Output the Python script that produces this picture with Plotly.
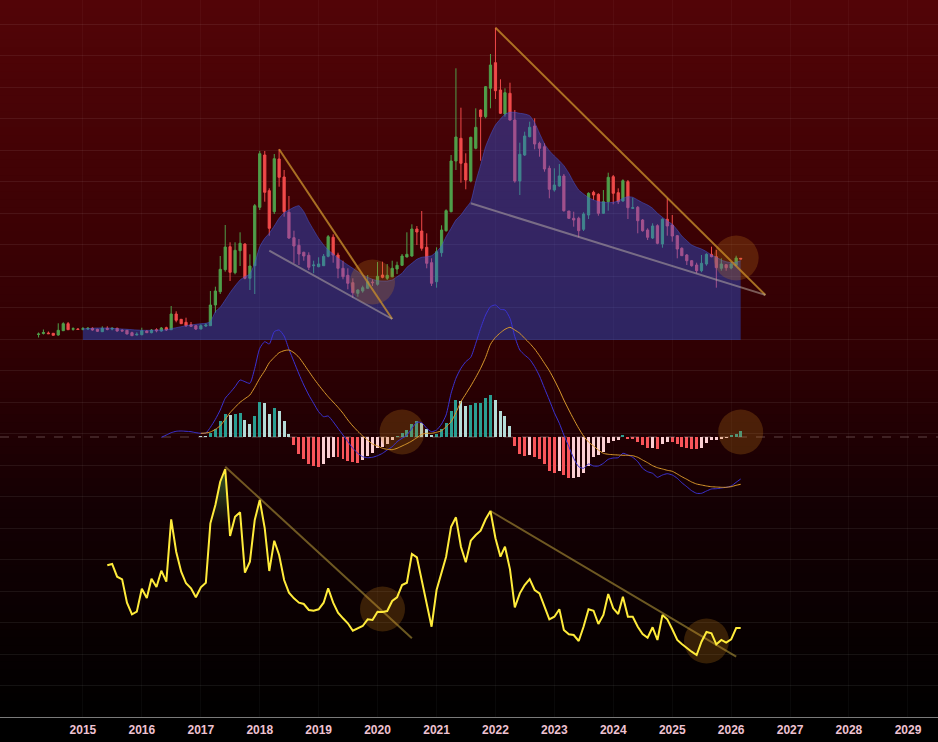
import numpy as np
import pandas as pd
import plotly.graph_objects as go

months = pd.date_range("2014-04-01", periods=144, freq="MS")

# monthly candles, price index
high = [7.5,10.5,8.5,7,16.7,17.7,18,12.7,12,13,
        13,12.7,11.3,13.7,13.7,12.7,12.3,11,10,8.3,
        7.7,12.3,10,11,11.7,13,13.3,34,28.7,21,
        22.3,18,15,15.7,16.7,49,53.3,84,115,97.7,
        97.7,107.7,96.7,85.7,136,189,189,151.7,186,190.7,
        170,144,109.3,101,88.3,87.7,79.3,82.7,86,105,
        105.7,87.3,79.3,71.7,61.7,50.7,54.3,65,60.7,78,
        78.3,76,79.3,78.3,86,107.7,115.7,114,129,106.7,
        81.7,92.7,114.7,130.7,185,271.7,232.3,186.7,203.3,231.7,
        230.7,254,286,312.3,260.7,251.7,257.3,230,197.3,208.3,
        218.3,221.7,198.3,196.7,174.3,171.7,176,166,129,128.3,
        123.3,127.7,147.7,149.3,146.7,150,167.3,165,151.7,160.7,
        160,142.3,134,121,111.7,116.7,115.7,121.7,141.7,125,
        105,92.7,86,80,77.3,85,86.7,93.3,90,81.7,
        76,78,84.3,82]
open_ = [5.5,6.5,7,6.7,5,9.3,16.3,10.7,11,10.7,
         11,11.7,10.7,8.3,11.7,11,11.7,9.7,9.7,7.3,
         5,5.3,9,7.3,10.3,9,12.3,10.3,26,20.7,
         17.7,15.3,14.3,11,14,14.3,35,48.3,70.3,93.3,
         67.3,89.3,96,61.7,74.3,132.7,185,149.3,128.3,181,
         163,127.7,102.3,94.7,87.7,84.7,74.3,73.3,74.3,83.7,
         102.7,85,71.7,64.7,57.3,46.7,49,51.7,58,55.7,
         65,61.7,63.3,71,74.7,83,84,111,109,92.7,
         77.3,58.3,87.3,109.3,128.3,179,201.7,176.7,159,191.7,
         230,223.3,251.7,277.3,250,226,246.7,220,159,185,
         203.3,214,196.7,193.3,171.7,150,154,164,129,121.7,
         121.7,110.7,125,147.7,145.7,126.7,138.3,163.3,147.3,139,
         158.3,131.7,132.7,120,110,102,114.3,96,120.7,115,
         104.3,91.7,85,79.3,75,69.3,76,85.7,83.3,71.7,
         75.3,72,74.7,81.7]
close = [6,7.5,6.3,4.7,9.7,16.3,10.3,11.3,10.5,11.3,
         11.7,10,8.7,11.7,10.7,11.7,9,9,6,4.3,
         5.7,9.3,7.3,10,9.3,12,10,26,19.7,16.3,
         14.3,13.7,11,14.3,15,35,49,70.7,93,67.7,
         89.7,96.7,61.7,74,134.3,186.3,147.7,111.7,181.3,162.7,
         128.3,102,94,86,84,72.7,75,76,83.7,103.3,
         85,71.7,63.3,56.7,47.3,50,52.3,58.3,57.3,63.7,
         62.7,64.7,71.7,74.7,84,85.7,111,108,91.7,76.7,
         56.7,88.3,110,129.3,179,203,176.7,160,202.7,212.7,
         223.3,253.3,275,249.3,226.7,247.3,220,159,185.7,204,
         212.7,196,191.7,171,150.7,155,164,129.3,121.7,120,
         109.3,126,146.7,145,126.7,138.3,162.7,146.7,138.3,159.3,
         132.3,132.3,119.3,109.3,102.7,114,96.7,120.7,114,104,
         91,84.3,79.3,74.3,69.3,76.7,85.7,83.3,72.3,76,
         72.3,76,82,81]
low = [2.5,5.5,6.3,4.7,4.3,9,10,9.3,10,9.7,
       10,9.3,8,8,9.7,9.7,8.3,8.7,5.7,4,
       4.7,4.7,7,6.7,7.7,8.3,9,10,17.7,16,
       13,13.3,10,10.7,13,14,27.3,46,68.3,59,
       65.7,74,60.7,50,46,130,138.3,104.3,126,153.3,
       123.3,101,76.7,75,79.3,70,66.7,72.7,74,82.7,
       77.3,61.7,60.7,50.7,42.3,43.3,47.3,51.3,54,54.3,
       61.7,60,62.7,66,74,82.7,83.3,95,89.3,71.7,
       54,52.3,83.3,108.3,127.7,170,157.3,150.7,157.7,190.7,
       179.3,221.7,231.7,241,226,223.3,219.3,157.3,145,184,
       202.7,190.7,183.3,168.3,141.7,148.3,153.3,128.3,121,113.3,
       102.7,109,121,140,124.3,126,129.3,135.7,136,138.3,
       121,131,106.7,108.3,100,101,95.7,92.3,104.3,98.3,
       81.7,84,75,73.3,66.7,67.7,74.3,82.7,52.3,69.3,
       69.3,70.7,74,81]

# realised-value style area, Jan 2015 on
area = [11.3,11.3,11.7,12,12,12,11.7,11.3,11,10.7,10.3,10,
        9.7,9.7,9.7,10,10,10.3,11.3,12.3,13.3,14.3,15,15.7,
        16.3,16.7,18.3,28.3,32.7,40,47.3,54,60,63.3,66,76.7,
        93.3,101.7,106.7,114,121.7,127.3,130,132.7,134.3,128.3,118.3,110,
        101.7,95,90,86,81.7,78.3,75,71.7,68.3,65,62.7,60.7,
        59.3,59,59,60,63.3,66.7,72.7,76.7,80.7,82.7,83.3,84.3,
        88.3,94,103.3,111.7,120,125,131.7,138.3,158.3,175,193.3,205,
        215,221,225.7,227.7,227.7,226.7,226,224.3,217.3,206.7,196,189.3,
        184,179.3,174.3,166.7,157.7,150,146,142.3,140,138.3,137.7,137.3,
        137.7,139,141.7,143.3,142.7,140,137.3,135,131.7,126.7,122.7,119,
        115.7,110,104,99.3,95,92.7,91,88.3,85,82.7,80,78.3,77.3,77.7,79.3]

# macd panel
macd_hist = [0.9,0.7,4.3,8.3,16,22.7,21.7,22.7,23.7,17,12.7,21,
             35,33.7,23.3,28.7,26,16,2.7,-8.3,-17.3,-22.3,-27.3,-29,
             -30,-26.7,-21,-19.7,-20.3,-22.3,-24,-25,-25.5,-23,-19,-16.3,
             -11.3,-10,-6.7,-3.3,0.3,4.3,7,12.7,16,13.7,8.3,1.7,
             2.7,7.7,13.7,26,36.7,36,31,32,34.3,34.5,38.7,41.7,
             36.7,26,21,11,-9,-17.3,-19,-18,-20,-22.3,-27.3,-34,
             -35.7,-34,-38,-41.3,-41,-40,-35.7,-29,-20,-18,-14.7,-6.3,
             -4,-3,1.5,-1.3,-1.7,-5,-8.3,-11.3,-10.7,-12.3,-7.3,-5,
             -5.3,-7.3,-9.7,-10.7,-11.7,-12.3,-10.7,-6.3,-3.3,-3,-1.7,-0.7,
             1.7,3.3,5.7]
macd_line = [-0.3,2,4.3,5.7,6,5.7,5.3,4.3,
             3.7,4,9.7,17.7,27,38.7,44.3,50.3,57,55.3,53.7,68.7,
             88.7,95.3,93,105.3,107,101,87.7,75.3,63,52,42,33.7,
             25.3,20.3,21,15.3,8.7,2,-4.7,-11.3,-16.3,-19.7,-20.7,-20.3,
             -18.7,-16.3,-13,-9.7,-4.7,-1.3,2,8.7,14.7,14.3,8.7,5.3,
             7,13,22,43.7,58.7,68.7,75.3,79.7,93.7,108.7,122,130.3,
             132,127.7,127,118.7,100.3,87,82,77.7,70.3,61,48.7,37,
             24.3,13.7,2,-9.7,-21.3,-29.7,-31.3,-27,-29,-29,-26.3,-22.3,
             -21,-20.7,-16.3,-18,-20.3,-24.7,-31.3,-34.7,-36.3,-40.3,-38,-36.7,
             -38,-41.3,-45.7,-49.7,-53.7,-56.3,-56.3,-54,-52,-51.7,-51,-50.3,
             -49,-45.3,-42]
macd_signal = [3.7,4,5,7.7,11.3,17.7,24.3,29.7,34.7,38.3,42,49.7,
               58.7,66.3,74.3,79.7,84.3,86.3,87,84.3,79.7,73,65.7,58.7,
               52,45.7,40.3,35,29.7,23.7,17,11,5.7,1,-3,-7,
               -9,-11.3,-12.3,-12.7,-11.3,-9,-6.7,-4,-0.7,2.7,3.7,3.7,
               4.7,6.3,10.3,15.3,24.3,35.3,43,51,59.7,68.7,79.7,92.7,
               99.7,104.3,107.7,109.7,107,103.7,98.7,93.7,88,81.3,73.7,66.3,
               57,47,37,27,17.7,8.7,1,-5,-9,-13,-16.3,-17.3,
               -17.7,-18,-18.3,-18.3,-18.7,-20.3,-23,-25.7,-28.7,-30.7,-32,-33.3,
               -34.3,-37,-39.7,-42.3,-45,-47,-48,-49,-49.7,-50,-50.3,-50.3,
               -49.7,-48.3,-47.3]

# rsi panel, Jun 2015 on
rsi = [151.7,153,140.3,137.7,114.3,102.7,105.3,
       128.3,119,138.3,130,146.3,135.3,197.7,165.3,145.3,133.7,128.7,119.7,
       129.7,134.3,193.7,212,235.3,248,181,200.3,204.7,144.3,155.3,197,
       217,188.7,146,176.3,162,137,124.3,118.7,114.3,113,107,106.3,
       107.7,114.3,128.7,114.3,104.3,98.7,93.7,86.3,88.3,91,97.7,97,
       105.3,105,106,116,119.7,132,134.3,163,159.7,137,110.3,90.3,
       127,145.3,160.3,190.3,199.7,170.3,154.7,176.3,182,186.3,197.7,206,
       178.7,160.3,170.3,147.7,109.7,123.7,132,138,127,123.7,111,97.7,
       100.3,107.7,87,82.7,82,76,90.3,107.7,106.3,93,102,123,
       108.7,103,120.3,100.3,100.3,90.3,83,79.3,89.7,77,102,97.7,
       87.7,77,73,68.7,65.3,62,75.3,85,83.7,72.7,77,74.3,
       77.7,89,89]

# trend lines and highlighted spots
price_upper = [(["2018-05-01", "2020-04-01"], [190.7, 21]),
               (["2022-01-01", "2026-08-01"], [312.3, 45])]
price_lower = [(["2018-03-01", "2020-04-01"], [89.3, 21]),
               (["2021-08-01", "2026-08-01"], [136.7, 45])]
rsi_trends = [(["2017-06-01", "2020-08-01"], [250.3, 78.7]),
              (["2021-12-01", "2026-02-01"], [206, 60.3])]
price_spots = (["2019-12-01", "2026-02-01"], [58, 82])
macd_spots = (["2020-06-01", "2026-03-01"], [5, 5])
rsi_spots = (["2020-02-01", "2025-08-01"], [108, 76])

year_ticks = list(range(2015, 2030))
x_range = ["2013-08-05", "2029-07-06"]
RSI_HOT = 190

spot_marker = dict(size=45, color="rgba(200,125,25,0.25)", line_width=0)

fig = go.Figure()

fig.add_trace(go.Candlestick(
    x=months, open=open_, high=high, low=low, close=close,
    increasing=dict(line=dict(color="#4f9f4a", width=1), fillcolor="#4f9f4a"),
    decreasing=dict(line=dict(color="#f04a4a", width=1), fillcolor="#f04a4a"),
    whiskerwidth=0, hoverinfo="skip",
))
fig.add_trace(go.Scatter(
    x=months[9:], y=area, mode="lines", fill="tozeroy",
    fillcolor="rgba(42,92,243,0.4)",
    line=dict(color="rgba(70,90,220,0.5)", width=1, shape="spline", smoothing=0.5),
    hoverinfo="skip",
))
for xs, ys in price_upper:
    fig.add_trace(go.Scatter(x=xs, y=ys, mode="lines", hoverinfo="skip",
                             line=dict(color="rgba(205,150,45,0.75)", width=2)))
for xs, ys in price_lower:
    fig.add_trace(go.Scatter(x=xs, y=ys, mode="lines", hoverinfo="skip",
                             line=dict(color="rgba(190,180,170,0.5)", width=2)))
fig.add_trace(go.Scatter(x=price_spots[0], y=price_spots[1], mode="markers",
                         marker=spot_marker, hoverinfo="skip"))

# macd histogram, colour follows sign and direction
hist_colors = []
for i, v in enumerate(macd_hist):
    prev = macd_hist[i - 1] if i else v + 1
    if v >= 0:
        hist_colors.append("#2b9e92" if v > prev else "#b5dcd8")
    else:
        hist_colors.append("#f9555a" if v < prev else "#fbcfd3")

fig.add_trace(go.Bar(x=months[33:], y=macd_hist, marker=dict(color=hist_colors, line_width=0),
                     width=1.6e9, yaxis="y2", hoverinfo="skip"))
fig.add_trace(go.Scatter(x=x_range, y=[0, 0], mode="lines", yaxis="y2", hoverinfo="skip",
                         line=dict(color="rgba(210,190,190,0.35)", width=1, dash="dash")))
fig.add_trace(go.Scatter(x=macd_spots[0], y=macd_spots[1], mode="markers", yaxis="y2",
                         marker=spot_marker, hoverinfo="skip"))
fig.add_trace(go.Scatter(x=months[25:], y=macd_line, mode="lines", yaxis="y2", hoverinfo="skip",
                         line=dict(color="#3b32d2", width=1, shape="spline", smoothing=0.6)))
fig.add_trace(go.Scatter(x=months[33:], y=macd_signal, mode="lines", yaxis="y2", hoverinfo="skip",
                         line=dict(color="#d8982c", width=1, shape="spline", smoothing=0.6)))

# green glow under the 2017 rsi peaks
glow_x = months[14:50]
glow_y = np.maximum(rsi[:36], RSI_HOT)
fig.add_trace(go.Scatter(x=glow_x, y=[RSI_HOT] * len(glow_x), mode="lines", yaxis="y3",
                         line_width=0, hoverinfo="skip"))
fig.add_trace(go.Scatter(x=glow_x, y=glow_y, mode="lines", yaxis="y3", line_width=0,
                         fill="tonexty", hoverinfo="skip",
                         fillgradient=dict(type="vertical", colorscale=[
                             [0, "rgba(60,120,55,0)"], [1, "rgba(60,120,55,0.75)"]])))
for xs, ys in rsi_trends:
    fig.add_trace(go.Scatter(x=xs, y=ys, mode="lines", yaxis="y3", hoverinfo="skip",
                             line=dict(color="rgba(205,175,65,0.5)", width=2)))
fig.add_trace(go.Scatter(x=rsi_spots[0], y=rsi_spots[1], mode="markers", yaxis="y3",
                         marker=spot_marker, hoverinfo="skip"))
fig.add_trace(go.Scatter(x=months[14:], y=rsi, mode="lines", yaxis="y3", hoverinfo="skip",
                         line=dict(color="#ffeb3b", width=2)))

# red to black backdrop, sits below the grid
# each band runs to the bottom so no seams show between them
stops = [0, 0.47, 0.7, 1]
backdrop = []
for a in np.linspace(0, 1, 90, endpoint=False):
    r = np.interp(a, stops, [82, 49, 20, 0])
    g = np.interp(a, stops, [4, 0, 0, 0])
    bl = np.interp(a, stops, [7, 3, 3, 0])
    backdrop.append(dict(type="rect", xref="paper", yref="paper", x0=0, x1=1, y0=0, y1=1 - a,
                         fillcolor=f"rgb({r:.0f},{g:.0f},{bl:.0f})", line_width=0, layer="below"))

fig.update_layout(
    width=938, height=742,
    margin=dict(l=0, r=0, t=0, b=25),
    paper_bgcolor="#000000", plot_bgcolor="rgba(0,0,0,0)",
    showlegend=False, shapes=backdrop, bargap=0,
    xaxis=dict(
        type="date", range=x_range, rangeslider_visible=False,
        tickvals=[f"{y}-01-01" for y in year_ticks], ticktext=[str(y) for y in year_ticks],
        ticks="outside", ticklen=2, tickcolor="rgba(0,0,0,0)",
        tickfont=dict(family="Liberation Sans", size=12, color="#eec2d2", weight=700),
        showgrid=True, gridcolor="rgba(255,255,255,0.035)", gridwidth=1,
        showline=True, linecolor="#7a7a7a", linewidth=1, zeroline=False,
    ),
    yaxis=dict(range=[-377, 340], tick0=1, dtick=31.5, showgrid=True,
               gridcolor="rgba(255,255,255,0.07)", gridwidth=1,
               showticklabels=False, zeroline=False, ticks=""),
    yaxis2=dict(range=[-280, 437], overlaying="y", showgrid=False,
                showticklabels=False, zeroline=False, ticks=""),
    yaxis3=dict(range=[0, 717], overlaying="y", showgrid=False,
                showticklabels=False, zeroline=False, ticks=""),
)

# page margin would push the figure 8px off the window edge
fig.write_html("out.html", post_script="document.body.style.margin='0';",
               config={"displayModeBar": False})
